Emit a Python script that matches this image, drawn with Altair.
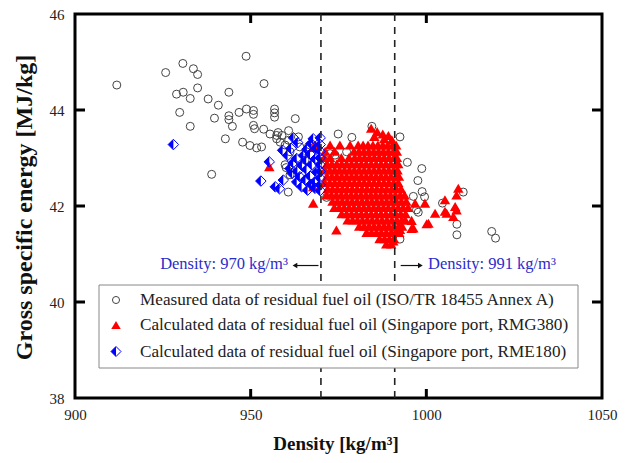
import altair as alt
import pandas as pd

W, H = 527, 384
SERIF = "Liberation Serif"

# ---- measured data (ISO/TR 18455 Annex A) : open circles ----
circ_x = [911.9, 925.8, 930.7, 933.7, 934.9, 948.7, 934.9, 928.9, 930.8, 932.8,
          937.9, 940.8, 943.8, 929.8, 932.8, 939.7, 943.8, 943.8, 944.8, 946.7,
          948.8, 950.8, 950.8, 953.8, 956.8, 956.8, 956.8, 962.7, 950.8, 951.1,
          942.8, 947.7, 949.8, 951.7, 938.9, 953.7, 955.5, 957.8, 958.9, 960.8,
          957.4, 958.4, 959.8, 960.8, 963.6, 959.8, 960.7, 962.1, 966.4, 974.9,
          978.8, 984.5, 992.5, 994.6, 998.7, 997.6, 998.8, 996.3, 999.5, 997.7,
          1004.6, 1010.5, 1008.7, 1008.7, 1018.6, 1019.7, 992.5, 987.3, 971.6, 974.0,
          977.3, 997.2, 957.4, 964.0, 966.9, 960.1, 961.2, 953.1, 972.6, 971.2,
          961.2, 965.5]
circ_y = [44.52, 44.78, 44.97, 44.86, 44.74, 45.12, 44.46, 44.33, 44.37, 44.24,
          44.23, 44.10, 44.37, 43.95, 43.66, 43.83, 43.88, 43.80, 43.66, 43.95,
          44.02, 43.99, 43.91, 44.55, 44.02, 43.94, 43.85, 43.82, 43.68, 43.61,
          43.40, 43.33, 43.26, 43.21, 42.66, 43.60, 43.50, 43.53, 43.47, 43.57,
          43.40, 43.33, 43.27, 43.37, 43.44, 42.86, 42.29, 42.85, 43.23, 43.50,
          43.43, 43.66, 43.44, 42.91, 42.78, 42.53, 42.30, 42.20, 42.19, 41.87,
          42.06, 42.29, 41.62, 41.40, 41.47, 41.33, 41.31, 41.58, 42.18, 43.06,
          43.13, 41.92, 43.47, 43.23, 43.27, 42.80, 42.65, 43.23, 43.09, 42.85,
          43.13, 42.96]

# ---- calculated data, Singapore port RMG380 : red triangles ----
red_row_y = [43.27, 43.14, 43.01, 42.88, 42.75, 42.62, 42.49, 42.36, 42.23,
             42.10, 41.97, 41.84, 41.71, 41.58, 41.45, 41.32, 41.21]
red_row_x = [
    [968.3, 972.6, 975.4, 978.3, 980.6, 982.0, 983.4, 984.8, 986.2, 987.6, 989.0, 990.4, 991.4],
    [971.2, 973.9, 979.4, 980.8, 982.2, 983.6, 985.0, 986.4, 987.8, 989.2, 990.6, 991.6],
    [971.0, 972.6, 975.8, 978.0, 979.6, 981.0, 982.4, 983.8, 985.2, 986.6, 988.0, 989.4, 990.8, 991.6],
    [971.7, 973.1, 974.5, 975.9, 977.3, 978.7, 980.1, 981.5, 982.9, 984.3, 985.7, 987.1, 988.5, 989.9, 991.3, 992.0],
    [971.1, 972.5, 973.9, 975.3, 976.7, 978.1, 979.5, 980.9, 982.3, 983.7, 985.1, 986.5, 987.9, 989.3, 990.7, 991.8],
    [971.7, 973.1, 974.5, 975.9, 977.3, 978.7, 980.1, 981.5, 982.9, 984.3, 985.7, 987.1, 988.5, 989.9, 991.3, 992.2],
    [971.1, 972.5, 973.9, 975.3, 976.7, 978.1, 979.5, 980.9, 982.3, 983.7, 985.1, 986.5, 987.9, 989.3, 990.7, 992.0],
    [971.9, 973.3, 974.7, 976.1, 977.5, 978.9, 980.3, 981.7, 983.1, 984.5, 985.9, 987.3, 988.7, 990.1, 991.5, 992.8],
    [971.6, 973.0, 974.4, 975.8, 977.2, 978.6, 980.0, 981.4, 982.8, 984.2, 985.6, 987.0, 988.4, 989.8, 991.2, 992.6, 993.8],
    [973.3, 974.7, 976.1, 977.5, 978.9, 980.3, 981.7, 983.1, 984.5, 985.9, 987.3, 988.7, 990.1, 991.5, 992.9, 994.3],
    [973.8, 975.2, 976.6, 978.0, 979.4, 980.8, 982.2, 983.6, 985.0, 986.4, 987.8, 989.2, 990.6, 992.0, 993.4, 994.8],
    [975.9, 977.3, 978.7, 980.1, 981.5, 982.9, 984.3, 985.7, 987.1, 988.5, 989.9, 991.3, 992.7, 994.1],
    [977.6, 979.0, 980.4, 981.8, 983.2, 984.6, 986.0, 987.4, 988.8, 990.2, 991.6, 993.0, 994.0],
    [980.9, 982.3, 983.7, 985.1, 986.5, 987.9, 989.3, 990.7, 992.1, 993.1],
    [983.0, 984.4, 985.8, 987.2, 988.6, 990.0, 991.2, 992.3],
    [986.7, 988.1, 989.5, 990.8],
    [988.6, 990.0],
]
red_extra_x = [984.3, 986.0, 987.6, 989.2, 985.2, 988.0, 990.2, 955.3, 967.8, 967.8,
               967.8, 974.4, 1009.1, 1008.6, 1005.3, 1008.2, 1005.3, 1002.5, 1007.7, 1000.1,
               995.8, 996.3, 999.6, 996.8, 990.6, 992.5, 1008.6, 1005.8, 1000.6, 995.8]
red_extra_y = [43.62, 43.55, 43.50, 43.47, 43.45, 43.40, 43.38, 42.82, 43.22, 42.40,
               42.06, 41.50, 42.37, 42.23, 42.13, 41.99, 41.89, 41.85, 41.78, 41.63,
               41.70, 41.54, 42.06, 42.06, 41.27, 41.51, 41.92, 41.85, 41.64, 41.53]

# ---- calculated data, Singapore port RME180 : half-filled blue diamonds ----
blue_x = [969.8, 969.8, 969.8, 969.8, 969.8, 969.8, 969.8, 969.8, 969.8,
          968.6, 968.4, 968.8, 968.3, 968.3, 967.2, 966.9, 967.4, 966.9, 967.2,
          966.0, 965.8, 965.9, 965.6, 966.2, 965.0, 964.6, 964.0, 964.5,
          963.4, 963.1, 963.3, 963.1, 962.2, 962.1, 961.8, 961.2,
          959.1, 959.3, 958.2, 957.0, 955.3, 952.9, 928.0, 960.5, 961.5, 967.8]
blue_y = [43.42, 43.28, 43.14, 43.00, 42.86, 42.72, 42.58, 42.44, 42.32,
          43.20, 42.98, 42.71, 42.50, 42.37, 43.30, 43.08, 42.86, 42.62, 42.45,
          43.18, 42.95, 42.76, 42.55, 42.33, 43.05, 42.85, 42.61, 42.40,
          43.32, 42.99, 42.72, 42.50, 43.42, 42.90, 42.68, 42.78,
          43.16, 42.54, 42.36, 42.40, 42.92, 42.52, 43.28, 43.05, 43.20, 43.40]

# limits, ticks, reference densities
x_ticks = [900, 950, 1000, 1050]
y_ticks = [38, 40, 42, 44, 46]
x_inner_ticks = [950, 1000]
y_inner_ticks = [40, 42, 44]
ref_density = [970, 991]
legend_labels = ["Measured data of residual fuel oil (ISO/TR 18455 Annex A)",
                 "Calculated data of residual fuel oil (Singapore port, RMG380)",
                 "Calculated data of residual fuel oil (Singapore port, RME180)"]

circ_df = pd.DataFrame({"x": circ_x, "y": circ_y})
rx, ry = [], []
for yy, row in zip(red_row_y, red_row_x):
    for xx in row:
        rx.append(xx)
        ry.append(yy)
rx += red_extra_x
ry += red_extra_y
red_df = pd.DataFrame({"x": rx, "y": ry})
blue_df = pd.DataFrame({"x": blue_x, "y": blue_y})

xs = alt.Scale(domain=[900, 1050], nice=False, zero=False)
ys = alt.Scale(domain=[38, 46], nice=False, zero=False)

x_axis = alt.Axis(values=x_ticks, ticks=False, domain=False, grid=False, labelFlush=False,
                  labelFont=SERIF, labelFontSize=15, labelColor="#222", labelPadding=9,
                  title="Density [kg/m³]", titleFont=SERIF, titleFontSize=19,
                  titleFontWeight="bold", titleColor="#111", titleX=W / 2 - 3, titleY=45,
                  titleBaseline="middle", format="d")
y_axis = alt.Axis(values=y_ticks, ticks=False, domain=False, grid=False, labelFlush=False,
                  labelFont=SERIF, labelFontSize=15, labelColor="#222", labelPadding=11,
                  title="Gross specific energy [MJ/kg]", titleFont=SERIF, titleFontSize=24,
                  titleFontWeight="bold", titleColor="#111", titleX=-51, titleY=193,
                  titleAngle=-90, titleBaseline="middle", titleAlign="center", format="d")


def X(f):
    return alt.X(f, scale=xs, axis=x_axis, title="Density [kg/m³]")


def Y(f):
    return alt.Y(f, scale=ys, axis=y_axis, title="Gross specific energy [MJ/kg]")


circles = alt.Chart(circ_df).mark_point(shape="circle", size=64, filled=False,
                                         stroke="#444", strokeWidth=1, opacity=1).encode(
    x=X("x:Q"), y=Y("y:Q"))

reds = alt.Chart(red_df).mark_point(shape="triangle-up", size=110, filled=True,
                                     fill="#ff0000", strokeWidth=0, opacity=1).encode(
    x=X("x:Q"), y=Y("y:Q"))

DIAMOND = "M0,-1L1,0L0,1L-1,0Z"
HALF = "M0,-1L-1,0L0,1Z"
blue_outline = alt.Chart(blue_df).mark_point(shape=DIAMOND, size=110, filled=False,
                                              stroke="#0000ff", strokeWidth=1, opacity=1).encode(
    x=X("x:Q"), y=Y("y:Q"))
blue_half = alt.Chart(blue_df).mark_point(shape=HALF, size=110, filled=True,
                                           fill="#0000ff", strokeWidth=0, opacity=1).encode(
    x=X("x:Q"), y=Y("y:Q"))

dash = alt.Chart(pd.DataFrame({"d": ref_density})).mark_rule(
    color="#222", strokeWidth=1.6, strokeDash=[7, 6]).encode(
    x=X("d:Q"), y=alt.value(0), y2=alt.value(H))

tk = dict(color="black", strokeWidth=3)
tx = pd.DataFrame({"v": x_inner_ticks})
ty = pd.DataFrame({"v": y_inner_ticks})
ticks_b = alt.Chart(tx).mark_rule(**tk).encode(x=X("v:Q"), y=alt.value(H), y2=alt.value(H - 9))
ticks_t = alt.Chart(tx).mark_rule(**tk).encode(x=X("v:Q"), y=alt.value(0), y2=alt.value(9))
ticks_l = alt.Chart(ty).mark_rule(**tk).encode(y=Y("v:Q"), x=alt.value(0), x2=alt.value(10))
ticks_r = alt.Chart(ty).mark_rule(**tk).encode(y=Y("v:Q"), x=alt.value(W), x2=alt.value(W - 10))

# density annotations
BLUE_TXT = "#2b2bcc"
ann = pd.DataFrame({"x": [960.6, 1000.5], "y": [40.80, 40.80],
                    "t": ["Density: 970 kg/m³", "Density: 991 kg/m³"]})
ann_l = alt.Chart(ann.iloc[[0]]).mark_text(align="right", baseline="middle", font=SERIF,
                                           fontSize=16.5, color=BLUE_TXT).encode(
    x=X("x:Q"), y=Y("y:Q"), text="t:N")
ann_r = alt.Chart(ann.iloc[[1]]).mark_text(align="left", baseline="middle", font=SERIF,
                                           fontSize=16.5, color=BLUE_TXT).encode(
    x=X("x:Q"), y=Y("y:Q"), text="t:N")

arr = pd.DataFrame({"x0": [969.3, 992.7], "x1": [962.6, 998.3], "y": [40.76, 40.76],
                    "s": ["triangle-left", "triangle-right"]})
arrow_lines = alt.Chart(arr).mark_rule(color="#111", strokeWidth=1.2).encode(
    x=X("x0:Q"), x2="x1:Q", y=Y("y:Q"))
arrow_heads = alt.Chart(arr).mark_point(filled=True, fill="#111", size=30, strokeWidth=0,
                                         opacity=1).encode(
    x=X("x1:Q"), y=Y("y:Q"), shape=alt.Shape("s:N", scale=None, legend=None))

# manual legend box
one = pd.DataFrame({"a": [0]})
box = alt.Chart(one).mark_rect(fill="white", stroke="#888", strokeWidth=1).encode(
    x=alt.value(24), x2=alt.value(503), y=alt.value(271), y2=alt.value(354))
rows_y = [286, 311, 337.5]
leg_layers = [box]
for lab, yy in zip(legend_labels, rows_y):
    leg_layers.append(alt.Chart(pd.DataFrame({"t": [lab]})).mark_text(
        align="left", baseline="middle", font=SERIF, fontSize=17.2, color="#222").encode(
        x=alt.value(65), y=alt.value(yy), text="t:N"))
leg_layers.append(alt.Chart(one).mark_point(shape="circle", size=50, filled=False,
                                            stroke="#444", strokeWidth=1, opacity=1).encode(
    x=alt.value(41), y=alt.value(rows_y[0])))
leg_layers.append(alt.Chart(one).mark_point(shape="triangle-up", size=90, filled=True,
                                            fill="#ff0000", strokeWidth=0, opacity=1).encode(
    x=alt.value(41), y=alt.value(rows_y[1])))
leg_layers.append(alt.Chart(one).mark_point(shape=DIAMOND, size=100, filled=False,
                                            stroke="#0000ff", strokeWidth=1, opacity=1).encode(
    x=alt.value(41), y=alt.value(rows_y[2])))
leg_layers.append(alt.Chart(one).mark_point(shape=HALF, size=100, filled=True,
                                            fill="#0000ff", strokeWidth=0, opacity=1).encode(
    x=alt.value(41), y=alt.value(rows_y[2])))

chart = alt.layer(
    circles, reds, blue_outline, blue_half, dash, *leg_layers,
    ann_l, ann_r, arrow_lines, arrow_heads,
    ticks_b, ticks_t, ticks_l, ticks_r
).properties(
    width=W, height=H, autosize="none",
    padding={"left": 67, "top": 6, "right": 17, "bottom": 57},
    background="white"
).configure_view(stroke="black", strokeWidth=3)

chart.save("out.html", embed_options={"renderer": "svg", "actions": False})
